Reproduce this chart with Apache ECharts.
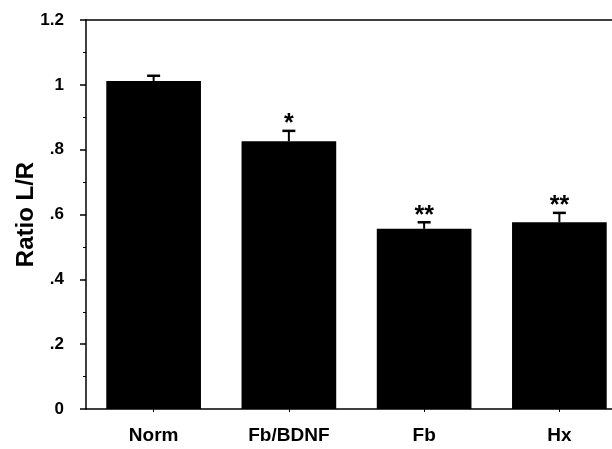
<!DOCTYPE html>
<html>
<head>
<meta charset="utf-8">
<script src="https://cdn.jsdelivr.net/npm/echarts@6/dist/echarts.min.js"></script>
<style>html,body{margin:0;padding:0;background:#fff;}#c{width:612px;height:449px;}</style>
</head>
<body>
<div id="c"></div>
<script>
var categories = ['Norm', 'Fb/BDNF', 'Fb', 'Hx'];
var means = [1.012, 0.826, 0.556, 0.576];
var errors = [0.016, 0.032, 0.020, 0.029];
var significance = ['', '*', '**', '**'];
var yTicks = [0, 0.2, 0.4, 0.6, 0.8, 1.0, 1.2];

var chart = echarts.init(document.getElementById('c'), null, {renderer: 'canvas'});
var FONT = '"Liberation Sans", Arial, Helvetica, sans-serif';

function fmtY(v) {
  var s = (Math.round(v * 10) / 10).toString();
  if (s.indexOf('0.') === 0) s = s.substring(1);
  return s;
}

var errData = categories.map(function (c, i) { return [i, means[i], errors[i], significance[i]]; });

chart.setOption({
  animation: false,
  backgroundColor: '#fff',
  grid: {left: 86, top: 20, bottom: 40, width: 541, outerBoundsMode: 'none', containLabel: false},
  xAxis: [{
    type: 'category',
    data: categories,
    position: 'bottom',
    axisLine: {show: true, lineStyle: {color: '#000', width: 1.5}},
    axisTick: {show: true, alignWithLabel: true, length: 3, lineStyle: {color: '#000'}},
    axisLabel: {color: '#000', fontFamily: FONT, fontWeight: 'bold', fontSize: 19, margin: 17}
  }, {
    type: 'category',
    data: categories,
    position: 'top',
    axisLine: {show: true, lineStyle: {color: '#000', width: 1.5}},
    axisTick: {show: false},
    axisLabel: {show: false}
  }],
  yAxis: {
    type: 'value',
    min: 0, max: 1.2, interval: 0.2,
    axisLine: {show: true, lineStyle: {color: '#000', width: 1.5}},
    axisTick: {show: true, length: 6, lineStyle: {color: '#000', width: 1.5}},
    minorTick: {show: true, splitNumber: 2, length: 3, lineStyle: {color: '#000'}},
    splitLine: {show: false},
    axisLabel: {color: '#000', fontFamily: FONT, fontWeight: 'bold', fontSize: 17, margin: 22,
      formatter: function (v) { return fmtY(v); }},
    name: 'Ratio L/R',
    nameLocation: 'middle',
    nameGap: 48,
    nameMoveOverlap: false,
    nameRotate: 90,
    nameTextStyle: {color: '#000', fontFamily: FONT, fontWeight: 'bold', fontSize: 24}
  },
  series: [{
    type: 'bar',
    data: means,
    barWidth: '70%',
    itemStyle: {color: '#000'},
    z: 2
  }, {
    type: 'custom',
    data: errData,
    z: 3,
    renderItem: function (params, api) {
      var i = api.value(0), m = api.value(1), e = api.value(2);
      var sig = significance[params.dataIndex];
      var base = api.coord([i, m]);
      var top = api.coord([i, m + e]);
      var cap = 6.5;
      var children = [
        {type: 'line', shape: {x1: base[0], y1: base[1], x2: top[0], y2: top[1]}, style: {stroke: '#000', lineWidth: 2}},
        {type: 'line', shape: {x1: top[0] - cap, y1: top[1], x2: top[0] + cap, y2: top[1]}, style: {stroke: '#000', lineWidth: 2.5}}
      ];
      if (sig) {
        children.push({type: 'text', x: top[0], y: top[1] + 6,
          style: {text: sig, fill: '#000', font: 'bold 25px ' + FONT, align: 'center', verticalAlign: 'bottom'}});
      }
      return {type: 'group', children: children};
    }
  }]
});
</script>
</body>
</html>
